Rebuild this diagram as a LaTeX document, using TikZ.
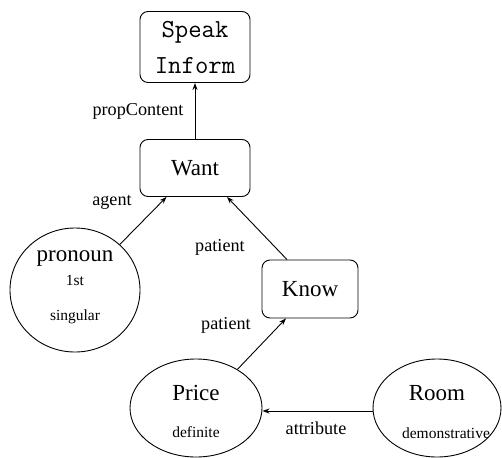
\documentclass[tikz,border=0pt]{standalone}
\usepackage{fontspec}
\setmainfont{Liberation Serif}
\usetikzlibrary{shapes.geometric,arrows.meta}
\begin{document}
\begin{tikzpicture}[x=1pt,y=-1pt,
  box/.style={draw,rounded corners=8pt,line width=0.9pt,inner sep=0pt},
  ell/.style={draw,ellipse,line width=0.9pt,inner sep=0pt},
  big/.style={font=\fontsize{23}{27}\selectfont,inner sep=0pt},
  small/.style={font=\fontsize{15.5}{18}\selectfont,inner sep=0pt},
  lab/.style={font=\fontsize{18.2}{22}\selectfont,inner sep=0pt},
  arr/.style={-{Stealth[length=7pt,width=5pt]},line width=0.9pt}]
\useasboundingbox (0,0) rectangle (502,457);
% nodes
\node[box,minimum width=110pt,minimum height=71pt,align=center,
  font=\ttfamily\fontsize{26}{36}\selectfont] (speak) at (195,47) {Speak\\Inform};
\node[box,minimum width=110pt,minimum height=57pt,big] (want) at (195,168) {Want};
\node[box,minimum width=96pt,minimum height=58pt,big] (know) at (310,289) {Know};
\node[ell,minimum width=130pt,minimum height=124pt] (pron) at (75,290) {};
\node[ell,minimum width=132pt,minimum height=98pt] (price) at (196,408) {};
\node[ell,minimum width=128pt,minimum height=98pt] (room) at (437,408) {};
% ellipse texts
\node[big] (pront) at (75,259) {pronoun};
\node[small] (pron1) at (75,280) {1st};
\node[small] (pron2) at (75,317) {singular};
\node[big] (pricet) at (196,393) {Price};
\node[small] (price1) at (196,432) {definite};
\node[big] (roomt) at (437,393) {Room};
\node[small] (room1) at (446,433) {demonstrative};
% connectors
\draw[arr] (want) -- (speak);
\draw[arr] (pron) -- (want);
\draw[arr] ([xshift=-23pt]know.north) -- ([xshift=32pt]want.south);
\draw[arr] (price.43) -- ([xshift=-24pt]know.south);
\draw[arr] ([yshift=-3pt]room.west) -- ([yshift=-3pt]price.east);
% labels
\node[lab] (l1) at (138,111) {propContent};
\node[lab] (l2) at (112,202) {agent};
\node[lab] (l3) at (220,247) {patient};
\node[lab] (l4) at (226,325) {patient};
\node[lab] (l5) at (316,428) {attribute};
\end{tikzpicture}
\end{document}
